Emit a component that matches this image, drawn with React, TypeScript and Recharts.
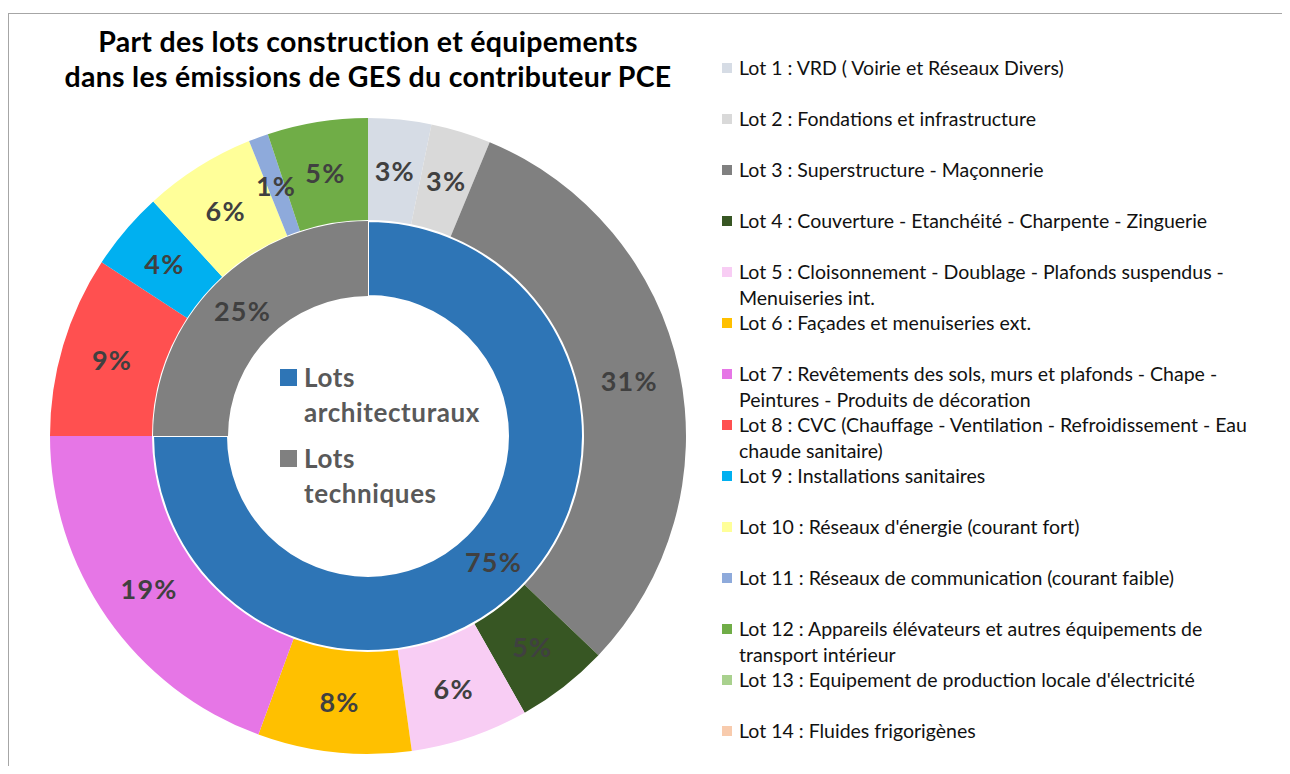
import React from 'react'
import { PieChart, Pie, Cell } from 'recharts'

// lots du contributeur PCE (parts, en %)
const lotNames = [
  'Lot 1 : VRD ( Voirie et Réseaux Divers)',
  'Lot 2 : Fondations et infrastructure',
  'Lot 3 : Superstructure - Maçonnerie',
  'Lot 4 : Couverture - Etanchéité - Charpente - Zinguerie',
  'Lot 5 : Cloisonnement - Doublage - Plafonds suspendus -\nMenuiseries int.',
  'Lot 6 : Façades et menuiseries ext.',
  'Lot 7 : Revêtements des sols, murs et plafonds - Chape -\nPeintures - Produits de décoration',
  'Lot 8 : CVC (Chauffage - Ventilation - Refroidissement - Eau\nchaude sanitaire)',
  'Lot 9 : Installations sanitaires',
  "Lot 10 : Réseaux d'énergie (courant fort)",
  'Lot 11 : Réseaux de communication (courant faible)',
  'Lot 12 : Appareils élévateurs et autres équipements de\ntransport intérieur',
  "Lot 13 : Equipement de production locale d'électricité",
  'Lot 14 : Fluides frigorigènes'
]
const lotValues = [3.2, 3.05, 30.85, 4.7, 6.0, 7.8, 19.4, 9.2, 4.0, 5.7, 1.0, 5.1, 0, 0]
const lotColors = [
  '#d6dce5', '#d9d9d9', '#808080', '#375623', '#f8cdf4', '#ffc000', '#e676e6',
  '#ff5050', '#00b0f0', '#ffff99', '#8eaadb', '#70ad47', '#a9d18e', '#f8cbad'
]

const groupNames = ['Lots\narchitecturaux', 'Lots\ntechniques']
const groupValues = [75, 25]
const groupColors = ['#2e75b6', '#808080']

const titleLines = [
  'Part des lots construction et équipements',
  'dans les émissions de GES du contributeur PCE'
]

const lotData = lotNames.map((name, i) => ({ name, value: lotValues[i] }))
const groupData = groupNames.map((name, i) => ({ name, value: groupValues[i] }))

const FONT = 'Lato, "Open Sans", sans-serif'
const RADIAN = Math.PI / 180

const renderPct = (props: any) => {
  const { cx, cy, midAngle, innerRadius, outerRadius, percent, value, index } = props
  if (!value) return null
  const r = (innerRadius + outerRadius) / 2
  const x = cx + r * Math.cos(-midAngle * RADIAN)
  const y = cy + r * Math.sin(-midAngle * RADIAN)
  return (
    <text
      key={`lbl-${index}`}
      x={x}
      y={y}
      fill="#404040"
      fontSize={27}
      fontWeight={700}
      fontFamily={FONT}
      letterSpacing={1.2}
      textAnchor="middle"
      dominantBaseline="central"
    >
      {Math.round(percent * 100)}%
    </text>
  )
}

export default function App() {
  const cx = 360
  const cy = 428
  return (
    <div style={{ position: 'relative', width: 1282, height: 758, overflow: 'hidden', fontFamily: FONT }}>
      <div
        style={{
          position: 'absolute', left: 0, top: 5, width: 1400, height: 900,
          borderTop: '1px solid #a6a6a6', borderLeft: '1px solid #a6a6a6'
        }}
      />

      <div
        style={{
          position: 'absolute', left: 0, top: 16, width: 720, textAlign: 'center',
          fontSize: 28.5, fontWeight: 700, lineHeight: '35px', letterSpacing: 0.3, color: '#000'
        }}
      >
        {titleLines.map(t => <div key={t}>{t}</div>)}
      </div>

      <div style={{ position: 'absolute', left: 0, top: 0 }}>
        <PieChart width={720} height={758} margin={{ top: 0, right: 0, bottom: 0, left: 0 }}>
          <Pie
            data={groupData}
            dataKey="value"
            cx={cx}
            cy={cy}
            innerRadius={140}
            outerRadius={215}
            startAngle={90}
            endAngle={-270}
            isAnimationActive={false}
            labelLine={false}
            label={renderPct}
          >
            {groupData.map((d, i) => (
              <Cell key={d.name} fill={groupColors[i]} stroke={i === 0 ? '#fff' : 'none'} strokeWidth={2} />
            ))}
          </Pie>
          <Pie
            data={lotData}
            dataKey="value"
            cx={cx}
            cy={cy}
            innerRadius={216}
            outerRadius={318}
            startAngle={90}
            endAngle={-270}
            isAnimationActive={false}
            labelLine={false}
            label={renderPct}
          >
            {lotData.map((d, i) => (
              <Cell key={d.name} fill={lotColors[i]} stroke="none" />
            ))}
          </Pie>
        </PieChart>
      </div>

      {/* légende du cercle intérieur */}
      {groupNames.map((name, i) => {
        const top = 352 + i * 81
        return (
          <div key={name} style={{ position: 'absolute', left: 272, top }}>
            <span style={{ position: 'absolute', left: 0, top: 9, width: 17, height: 17, background: groupColors[i] }} />
            <div
              style={{
                position: 'absolute', left: 24, top: 0, whiteSpace: 'pre', fontSize: 26,
                fontWeight: 700, lineHeight: '35px', letterSpacing: 0.6, color: '#595959'
              }}
            >
              {name}
            </div>
          </div>
        )
      })}

      {/* légende des lots */}
      {lotNames.map((name, i) => {
        const top = 47 + i * 51
        return (
          <div key={name} style={{ position: 'absolute', left: 714, top }}>
            <span style={{ position: 'absolute', left: 0, top: 8, width: 10, height: 10, background: lotColors[i] }} />
            <div
              style={{
                position: 'absolute', left: 17, top: 0, whiteSpace: 'pre', fontSize: 19.5,
                lineHeight: '26px', color: '#111'
              }}
            >
              {name}
            </div>
          </div>
        )
      })}
    </div>
  )
}
